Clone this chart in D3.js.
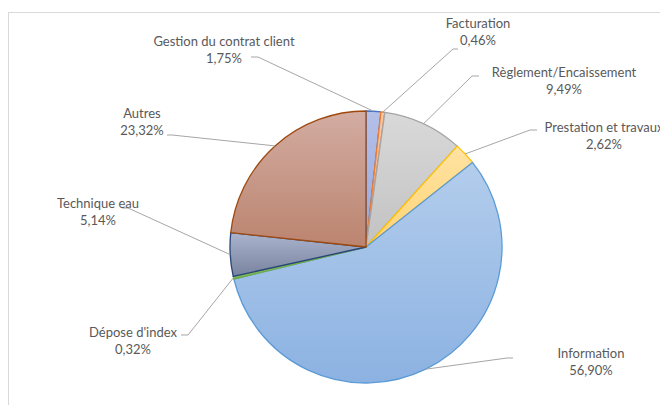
<!DOCTYPE html>
<html><head><meta charset="utf-8">
<script src="https://cdn.jsdelivr.net/npm/d3@7"></script>
<style>body{margin:0;background:#fff}svg{display:block}</style>
</head><body>
<svg id="c" width="660" height="405"></svg>
<script>
const categories = ["Gestion du contrat client","Facturation","Règlement/Encaissement","Prestation et travaux","Information","Dépose d'index","Technique eau","Autres"];
const values = [1.75,0.46,9.49,2.62,56.90,0.32,5.14,23.32];
const valueLabels = ["1,75%","0,46%","9,49%","2,62%","56,90%","0,32%","5,14%","23,32%"];

// styles
const topColors = ["#b4c0e8","#fac8a6","#d9d9d9","#ffe3a3","#b3cdec","#a3d088","#abb4cd","#d3aca2"];
const botColors = ["#96a7db","#f3a676","#c2c2c2","#ffd374","#8cb2e2","#78b656","#78839f","#bb846f"];
const strokeColors = ["#4472c4","#ed7d31","#a5a5a5","#ffc000","#5b9bd5","#70ad47","#264478","#9e480e"];
// label layout: text centre x, first baseline y, leader end point and elbow
const labelLayout = [
  {x:224,y:46,lx:[251,258],ly:57},
  {x:478,y:28,lx:[458,453],ly:49},
  {x:564,y:77,lx:[479,472],ly:76},
  {x:604,y:132,lx:[537,530],ly:130},
  {x:591,y:358,lx:[513,507],ly:358},
  {x:133,y:337,lx:[181,188],ly:335},
  {x:98,y:208,lx:[122,128],ly:208},
  {x:142,y:118,lx:[167,172],ly:135}
];

const svg = d3.select("#c");
svg.append("rect").attr("x",8.5).attr("y",12.5).attr("width",700).attr("height",450)
  .attr("fill","none").attr("stroke","#d9d9d9").attr("stroke-width",1);

const cx = 366, cy = 247, R = 136;
const defs = svg.append("defs");
categories.forEach((c,i)=>{
  const g = defs.append("linearGradient").attr("id","g"+i)
    .attr("x1",0).attr("y1",0).attr("x2",0).attr("y2",1);
  g.append("stop").attr("offset","0%").attr("stop-color",topColors[i]);
  g.append("stop").attr("offset","100%").attr("stop-color",botColors[i]);
});

const pie = d3.pie().sort(null).value(d=>d);
const arcs = pie(values);
const arc = d3.arc().innerRadius(0).outerRadius(R);
const gp = svg.append("g").attr("transform",`translate(${cx},${cy})`);
gp.selectAll("path").data(arcs).join("path")
  .attr("d",arc)
  .attr("fill",(d,i)=>`url(#g${i})`)
  .attr("stroke",(d,i)=>strokeColors[i])
  .attr("stroke-width",1.3)
  .attr("stroke-linejoin","round");

// leader lines
arcs.forEach((d,i)=>{
  const a = (d.startAngle+d.endAngle)/2;
  const px = cx + R*Math.sin(a), py = cy - R*Math.cos(a);
  const L = labelLayout[i];
  const pts = [[L.lx[0],L.ly],[L.lx[1],L.ly],[px,py]];
  svg.append("path").attr("d",d3.line()(pts)).attr("fill","none")
    .attr("stroke","#a6a6a6").attr("stroke-width",1);
});

// labels
const lab = svg.append("g").attr("font-family","Lato, 'Open Sans', sans-serif")
  .attr("font-size","13px").attr("fill","#595959").attr("text-anchor","middle");
categories.forEach((c,i)=>{
  const L = labelLayout[i];
  lab.append("text").attr("x",L.x).attr("y",L.y).text(c);
  lab.append("text").attr("x",L.x).attr("y",L.y+17).text(valueLabels[i]);
});
</script>
</body></html>
